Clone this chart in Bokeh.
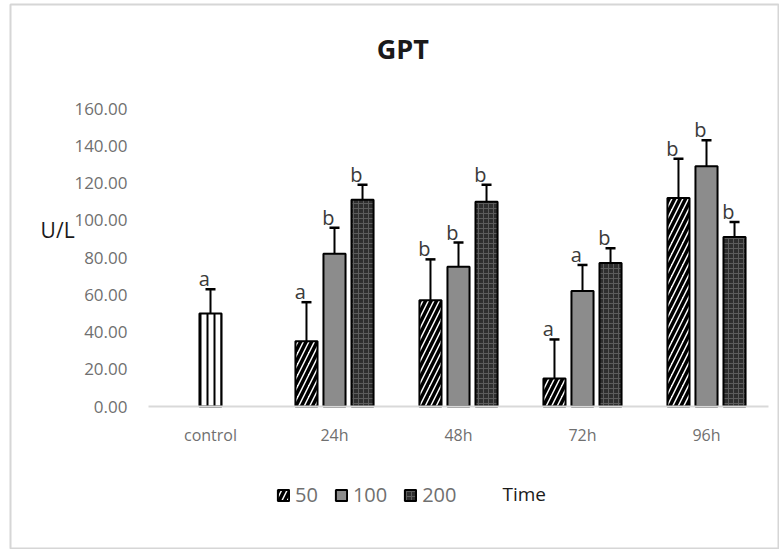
from bokeh.plotting import figure
from bokeh.models import (ColumnDataSource, Range1d, FixedTicker,
                          NumeralTickFormatter, Legend, LegendItem, Label)
from bokeh.core.properties import value
from bokeh.embed import file_html
from bokeh.resources import INLINE

# ---- data ----
categories = ["control", "24h", "48h", "72h", "96h"]
time_cats = ["24h", "48h", "72h", "96h"]

control_val = [50]
control_err = [13]
control_sig = ["a"]

dose50 = [35, 57, 15, 112]
dose50_err = [21, 22, 21, 21]
dose50_sig = ["a", "b", "a", "b"]

dose100 = [82, 75, 62, 129]
dose100_err = [14, 13, 14, 14]
dose100_sig = ["b", "b", "a", "b"]

dose200 = [111, 110, 77, 91]
dose200_err = [8, 9, 8, 8]
dose200_sig = ["b", "b", "b", "b"]

y_ticks = [0, 20, 40, 60, 80, 100, 120, 140, 160]

FONT = "Open Sans"
W, H = 779, 549
FL, FT, FR, FB = 10, 4, 778, 548   # frame edges on the page (chart border)
PX_X = 124.0      # pixels per category
PX_Y = 1.8625     # pixels per U/L
X0, Y0 = 148, 406  # page position of the origin

p = figure(width=W, height=H, output_backend="svg", toolbar_location=None,
           x_range=Range1d(-(X0 - FL) / PX_X, (FR - X0) / PX_X),
           y_range=Range1d(-(FB - Y0) / PX_Y, (Y0 - FT) / PX_Y),
           min_border_left=FL, min_border_right=W - FR, min_border_top=FT,
           min_border_bottom=H - FB)
p.outline_line_color = "#d6d6d6"
p.outline_line_width = 2
p.xgrid.visible = False
p.ygrid.visible = False

cat_pos = [i + 0.5 for i in range(len(categories))]

p.yaxis.fixed_location = 0
p.yaxis.ticker = FixedTicker(ticks=y_ticks)
p.yaxis.formatter = NumeralTickFormatter(format="0.00")
p.yaxis.axis_line_color = None
p.yaxis.major_tick_line_color = None
p.yaxis.minor_tick_line_color = None
p.yaxis.major_label_text_font = FONT
p.yaxis.major_label_text_font_size = "17px"
p.yaxis.major_label_text_color = "#707070"
p.yaxis.major_label_standoff = 15

p.xaxis.fixed_location = 0
p.xaxis.bounds = (0, len(categories))
p.xaxis.ticker = FixedTicker(ticks=cat_pos)
p.xaxis.major_label_overrides = {pos: c for pos, c in zip(cat_pos, categories)}
p.xaxis.axis_line_color = "#d9d9d9"
p.xaxis.axis_line_width = 2
p.xaxis.major_tick_line_color = None
p.xaxis.minor_tick_line_color = None
p.xaxis.major_label_text_font = FONT
p.xaxis.major_label_text_font_size = "16px"
p.xaxis.major_label_text_color = "#707070"
p.xaxis.major_label_standoff = 11

BW = 0.178
STEP = 0.226


def make_src(cats, vals, errs, sigs, off):
    xs = [categories.index(c) + 0.5 + off for c in cats]
    return ColumnDataSource(dict(x=xs, xl=[x - 0.05 for x in xs], val=vals,
                                 top=[v + e for v, e in zip(vals, errs)],
                                 sig=sigs))


series = [
    (make_src(["control"], control_val, control_err, control_sig, 0.0),
     dict(fill_color="white", hatch_pattern="vertical_line", hatch_color="black",
          hatch_scale=7, hatch_weight=2), None),
    (make_src(time_cats, dose50, dose50_err, dose50_sig, -STEP),
     dict(fill_color="white", hatch_pattern="right_diagonal_line", hatch_color="black",
          hatch_scale=11, hatch_weight=3.5), "50"),
    (make_src(time_cats, dose100, dose100_err, dose100_sig, 0.0),
     dict(fill_color="#8c8c8c"), "100"),
    (make_src(time_cats, dose200, dose200_err, dose200_sig, STEP),
     dict(fill_color="#2e2e2e", hatch_pattern="cross", hatch_color="#5c5c5c",
          hatch_scale=5, hatch_weight=1), "200"),
]

items = []
for src, style, lab in series:
    r = p.vbar(x="x", top="val", width=BW, source=src, line_color="black",
               line_width=2, **style)
    p.segment(x0="x", y0="val", x1="x", y1="top", source=src, line_color="black",
              line_width=2)
    p.scatter(x="x", y="top", source=src, marker="dash", size=10,
              line_color="black", line_width=2.5)
    p.text(x="xl", y="top", text="sig", source=src, text_font=value(FONT),
           text_font_size="20px", text_color="#3a3a3a", text_align="center",
           text_baseline="bottom", y_offset=3)
    if lab is not None:
        items.append(LegendItem(label=lab, renderers=[r]))

legend = Legend(items=items, orientation="horizontal", location=(266, 40),
                label_text_font=FONT, label_text_font_size="20px",
                label_text_color="#707070", glyph_width=14, glyph_height=14,
                label_standoff=5, spacing=16, padding=0, margin=0,
                border_line_color=None, background_fill_alpha=0)
p.add_layout(legend, "center")

p.add_layout(Label(x=2.05, y=192, text="GPT", text_font=FONT,
                   text_font_style="bold", text_font_size="27px",
                   text_color="#1a1a1a", text_align="center",
                   text_baseline="middle"))
p.add_layout(Label(x=-0.87, y=94.5, text="U/L", text_font=FONT,
                   text_font_size="21px", text_color="#1a1a1a",
                   text_align="left", text_baseline="middle"))
p.add_layout(Label(x=2.855, y=-47, text="Time", text_font=FONT,
                   text_font_size="19px", text_color="#1a1a1a",
                   text_align="left", text_baseline="middle"))

open("out.html", "w").write(file_html(p, INLINE))
